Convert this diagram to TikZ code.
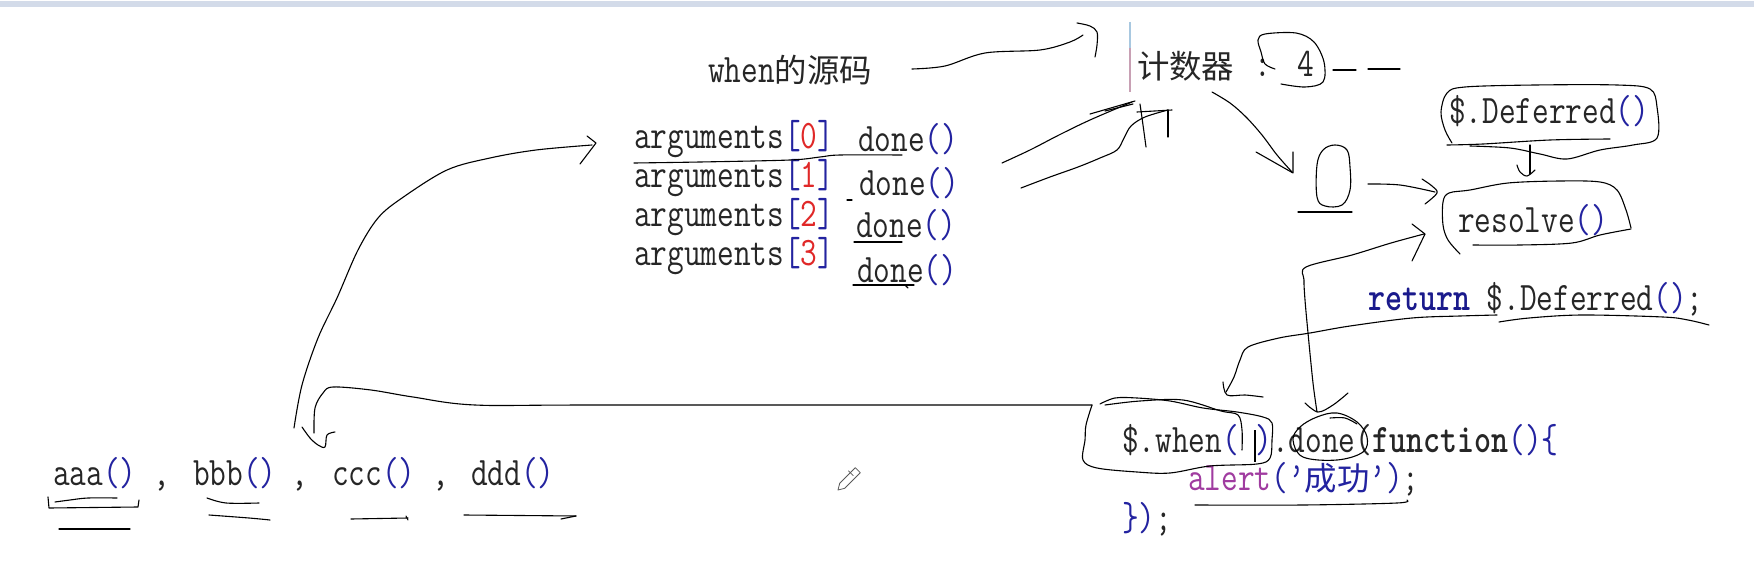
\documentclass[tikz,border=0pt]{standalone}
\usepackage{fontspec}
\usepackage{graphicx}
\newfontfamily\cjkfont{Noto Sans CJK SC}
\definecolor{cblue}{HTML}{2323A0}
\definecolor{cred}{HTML}{E02828}
\definecolor{cpurple}{HTML}{A03CA0}
\definecolor{cnavy}{HTML}{1A1A8C}
\definecolor{ctxt}{HTML}{262626}
\definecolor{topbar}{HTML}{D3DBE9}
\definecolor{curblue}{HTML}{A8C8E0}
\definecolor{curpink}{HTML}{C8A0B4}
\newcommand\cw[1]{\scalebox{1}[1.25]{\ttfamily #1}}
\newcommand\zh[1]{{\cjkfont #1}}
\begin{document}
\begin{tikzpicture}[x=1pt,y=-1pt,
  every node/.style={inner sep=0pt, outer sep=0pt, font=\fontsize{32.4}{36}\selectfont, text=ctxt, anchor=base west},
  hand/.style={line width=1.1pt, black, line cap=round, line join=round},
  sm/.style={smooth, tension=0.55}]
\useasboundingbox (0,0) rectangle (1754,578);
\fill[white] (0,0) rectangle (1754,578);
\fill[topbar] (0,1.5) rectangle (1754,7.5);

% ---------- texts ----------
\node (when) at (708,82) {\cw{when}\zh{的源码}};
\node (arg0) at (634,148) {\cw{arguments{\color{cblue}[}{\color{cred}0}{\color{cblue}]}}};
\node (arg1) at (634,187) {\cw{arguments{\color{cblue}[}{\color{cred}1}{\color{cblue}]}}};
\node (arg2) at (634,226) {\cw{arguments{\color{cblue}[}{\color{cred}2}{\color{cblue}]}}};
\node (arg3) at (634,265) {\cw{arguments{\color{cblue}[}{\color{cred}3}{\color{cblue}]}}};
\node (done0) at (858,151) {\cw{done{\color{cblue}()}}};
\node (done1) at (859,195) {\cw{done{\color{cblue}()}}};
\node (done2) at (856,237) {\cw{done{\color{cblue}()}}};
\node (done3) at (857,282) {\cw{done{\color{cblue}()}}};
\node (cnt) at (1137,78) {\zh{计数器}};
\node (colon) at (1254,77) {\cw{:}};
\node (four) at (1297,77) {\cw{4}};
\node (def) at (1449,123) {\cw{\$.Deferred{\color{cblue}()}}};
\node (res) at (1458,232) {\cw{resolve{\color{cblue}()}}};
\node (ret) at (1368,310) {\cw{{\bfseries\color{cnavy}return}\ \$.Deferred{\color{cblue}()};}};
\node (whenc) at (1122,452) {\cw{\$.when{\color{cblue}(}\ {\color{cblue})}.done({\bfseries function}{\color{cblue}()\{}}};
\node (alert) at (1188,490) {\cw{{\color{cpurple}alert}{\color{cblue}(’}}{\color{cblue}\zh{成功}}\cw{{\color{cblue}’)};}};
\node (close) at (1122,530) {\cw{{\color{cblue}\})};}};
\node (aaa) at (53,485) {\cw{aaa{\color{cblue}()}}};
\node (c1) at (153,485) {\cw{,}};
\node (bbb) at (193,485) {\cw{bbb{\color{cblue}()}}};
\node (c2) at (291,485) {\cw{,}};
\node (ccc) at (332,485) {\cw{ccc{\color{cblue}()}}};
\node (c3) at (432,485) {\cw{,}};
\node (ddd) at (471,485) {\cw{ddd{\color{cblue}()}}};

% text cursors
\draw[curblue, line width=1.6pt] (1130,22) -- (1130,48);
\draw[curpink, line width=1.6pt] (1130,48) -- (1130,92);
\draw[black, line width=2pt] (1255,430) -- (1255,462);

% ---------- hand strokes ----------
% when -> counter
\draw[hand] plot[sm] coordinates {(912,69) (945,66) (985,53) (1040,50) (1070,42) (1083,35)};
\draw[hand] plot[sm] coordinates {(1077,23) (1090,26) (1097,32) (1097,45) (1095,57)};
% arguments underline
\draw[hand] plot[sm] coordinates {(634,163) (700,162) (790,160) (820,157) (840,155) (902,155)};
\draw[hand] (847,200) -- (852,200);
\draw[hand] (854,242) -- (902,242);
\draw[hand] (853,285) -- (914,285);
\draw[hand] (905,285) -- (908,288);
% done -> counter (two strokes)
\draw[hand] plot[sm] coordinates {(1002,163) (1030,150) (1059,135) (1090,120) (1132,102)};
\draw[hand] (1090,114) -- (1135,101);
\draw[hand] (1105,111) -- (1133,104);
\draw[hand] plot[sm] coordinates {(1021,188) (1050,177) (1078,167) (1100,158) (1117,150) (1124,138) (1131,126) (1145,117) (1168,110)};
\draw[hand] (1137,112) -- (1172,110);
\draw[hand] plot[sm] coordinates {(1140,104) (1143,125) (1146,147)};
\draw[hand] (1168,110) -- (1168,137);
% counter -> 0
\draw[hand] plot[sm] coordinates {(1212,92) (1230,103) (1246,117) (1262,135) (1277,155) (1292,172)};
\draw[hand] (1256,152) -- (1293,173) -- (1293,152);
% loop around 4
\draw[hand] plot[sm] coordinates {(1275,69) (1265,64) (1261,52) (1258,40) (1265,34) (1296,33) (1314,42) (1324,62) (1323,82) (1305,87) (1281,84)};
\draw[hand] (1333,70) -- (1356,70);
\draw[hand] (1368,69) -- (1400,69);
% zero
\draw[hand] plot[smooth cycle, tension=0.6] coordinates {(1317,165) (1323,150) (1335,145) (1347,150) (1350,167) (1350,190) (1342,205) (1325,206) (1317,197)};
\draw[hand] (1298,212) -- (1352,212);
% 0 -> resolve
\draw[hand] plot[sm] coordinates {(1368,184) (1400,185) (1435,192)};
\draw[hand] plot[sm] coordinates {(1422,179) (1432,186) (1437,193) (1425,204)};
% Deferred loop
\draw[hand] plot[sm] coordinates {(1452,143) (1445,130) (1441,112) (1447,93) (1465,87) (1535,85) (1617,85) (1650,89) (1657,107) (1657,138) (1633,145) (1600,150) (1567,159) (1540,154) (1510,148) (1470,146)};
\draw[hand] plot[sm] coordinates {(1447,145) (1483,144) (1550,140) (1610,139)};
% Deferred -> resolve
\draw[hand] (1530,145) -- (1530,174);
\draw[hand] plot[sm] coordinates {(1517,165) (1520,172) (1527,176) (1535,170)};
% resolve loop
\draw[hand] plot[sm] coordinates {(1460,254) (1448,240) (1443,225) (1443,202) (1449,193) (1470,190) (1508,183) (1560,181) (1600,182) (1617,190) (1626,210) (1631,228)};
\draw[hand] plot[sm] coordinates {(1631,229) (1600,235) (1572,243) (1520,245) (1473,245)};
% done <-> resolve
\draw[hand] plot[sm] coordinates {(1424,234) (1391,243) (1352,255) (1306,267) (1304,280) (1305,300) (1308,333) (1313,383) (1317,412)};
\draw[hand] (1412,224) -- (1425,234) -- (1412,261);
\draw[hand] plot[sm] coordinates {(1305,403) (1318,412) (1333,405) (1348,393)};
% return underline and arrow to $.when
\draw[hand] plot[sm] coordinates {(1499,322) (1529,318) (1582,315) (1663,317) (1688,320) (1709,325)};
\draw[hand] plot[sm] coordinates {(1497,315) (1460,316) (1412,318) (1350,326) (1310,333) (1279,338) (1248,347) (1240,360) (1234,377) (1226,392)};
\draw[hand] plot[sm] coordinates {(1223,382) (1227,395) (1245,395) (1263,397)};
% $.when loop
\draw[hand] plot[sm] coordinates {(1092,405) (1086,425) (1085,440) (1083,460) (1097,468) (1137,472) (1170,473) (1210,466) (1257,464) (1270,458) (1272,440) (1272,423) (1263,417) (1237,412) (1203,408) (1170,401) (1137,398) (1115,398) (1100,404)};
\draw[hand] plot[sm] coordinates {(1105,405) (1140,401) (1183,400) (1221,411) (1238,415) (1242,430) (1242,450)};
% done loop
\draw[hand] plot[smooth cycle, tension=0.6] coordinates {(1300,427) (1317,417) (1337,413) (1357,422) (1367,437) (1363,452) (1337,460) (1303,457) (1293,440)};
\draw[hand] plot[sm] coordinates {(1330,418) (1345,418) (1357,424)};
% alert underline
\draw[hand] plot[sm] coordinates {(1195,505) (1303,505) (1397,503) (1407,500)};
% $.when -> bbb
\draw[hand] plot[sm] coordinates {(1092,405) (600,405) (475,405) (413,397) (371,390) (333,387) (323,393) (315,408) (314,433)};
\draw[hand] plot[sm] coordinates {(302,427) (310,438) (318,445) (325,447) (327,435) (335,432)};
% bbb -> arguments[0]
\draw[hand] plot[sm] coordinates {(294,428) (302,385) (318,338) (337,298) (358,250) (378,218) (402,198) (447,170) (490,158) (536,150) (592,145)};
\draw[hand] (587,136) -- (596,143) -- (580,164);
% underlines of aaa..ddd
\draw[hand] (48,497) -- (49,508) -- (138,507) -- (139,500);
\draw[hand] plot[sm] coordinates {(55,502) (70,500) (88,498) (117,498)};
\draw[hand] (59,529) -- (130,529);
\draw[hand] plot[sm] coordinates {(207,498) (226,503) (259,503)};
\draw[hand] plot[sm] coordinates {(209,515) (249,518) (270,520)};
\draw[hand] (351,519) -- (408,518);
\draw[hand] (406,516) -- (408,520);
\draw[hand] (464,515) -- (576,516);
\draw[hand] (561,519) -- (576,516);

% pencil cursor
\draw[gray!70!black, fill=white, line width=0.8pt, line join=round]
  (838,490) -- (844.7,488.3) -- (860.3,472.7) -- (855.3,467.7) -- (839.7,483.3) -- cycle;
\draw[gray!70!black, line width=0.8pt] (853.3,475.7) -- (848.3,470.7);
\end{tikzpicture}
\end{document}
